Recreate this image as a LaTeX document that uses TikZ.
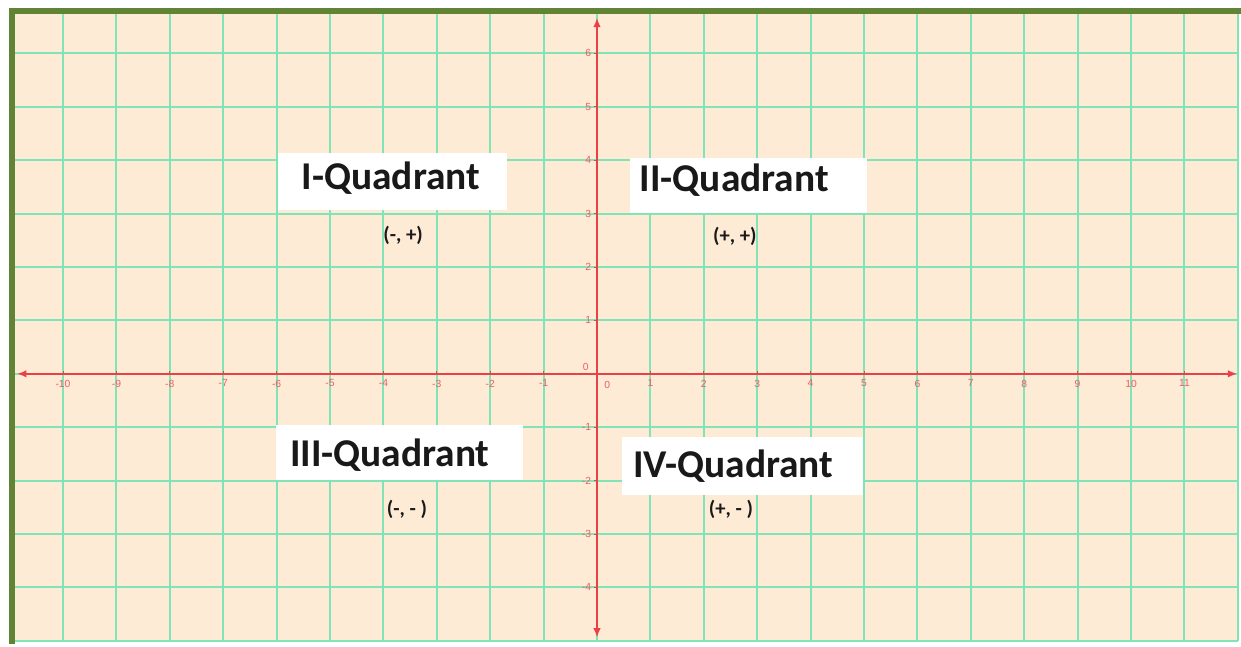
\documentclass[tikz,border=0pt]{standalone}
\usepackage{fontspec}
\setmainfont{Carlito}
\newfontfamily\tickfont{Liberation Sans}
\usetikzlibrary{arrows.meta}
\definecolor{paper}{RGB}{253,235,213}
\definecolor{gridgreen}{RGB}{128,228,182}
\definecolor{axisred}{RGB}{236,64,72}
\definecolor{framegreen}{RGB}{96,132,52}

\begin{document}
\begin{tikzpicture}[>={Latex[length=5pt,width=4pt]}, ticklbl/.style={font=\tickfont\fontsize{5.5}{6}\selectfont, text=axisred!85, inner sep=1pt}, qbox/.style={fill=white, inner sep=0pt}, qname/.style={font=\fontsize{21}{24}\selectfont\bfseries, text=black!90, inner sep=0pt, anchor=base}, qsign/.style={font=\fontsize{11}{13}\selectfont\bfseries, text=black!90, inner sep=0pt}]
	\useasboundingbox[fill=white] (-11.18,-5.11) rectangle (12.06,7.0);
	\fill[paper] (-10.96,-5) rectangle (12,6.79);
	\draw[gridgreen, line width=1.1pt] (-10.96,-5) grid (12,6.79);
	\draw[framegreen, line width=3pt, line cap=rect] (-10.96,-5) -- (-10.96,6.79) -- (12,6.79);
	% axes
	\coordinate (xmin) at (-10.86,0);
	\coordinate (xmax) at (11.99,0);
	\coordinate (ymin) at (0,-4.94);
	\coordinate (ymax) at (0,6.67);
	\draw[<->, axisred, line width=1pt] (xmin) -- (xmax);
	\draw[<->, axisred, line width=1pt] (ymin) -- (ymax);
	\foreach \x in {-10,...,-1,1,2,...,11} {
		\draw[axisred, line width=0.4pt] (\x,0) -- (\x,0.06);
		\node[ticklbl, below] (xt\x) at (\x,-0.07) {\x};
	}
	\foreach \y in {-4,...,-1,1,2,...,6} {
		\draw[axisred, line width=0.4pt] (0,\y) -- (-0.06,\y);
		\node[ticklbl, left] (yt\y) at (-0.07,\y) {\y};
	}
	\node[ticklbl] (xt0) at (0.19,-0.2) {0};
	\node[ticklbl] (yt0) at (-0.21,0.13) {0};
	% quadrant labels
	\node[qbox, minimum width=4.29cm, minimum height=1.07cm] (boxI) at (-3.83,3.6) {};
	\node[qname] (nameI) at (-3.86,3.46) {I-Quadrant};
	\node[qsign] (signI) at (-3.63,2.6) {(-, +)};
	\node[qbox, minimum width=4.44cm, minimum height=1.03cm] (boxII) at (2.84,3.53) {};
	\node[qname] (nameII) at (2.57,3.41) {II-Quadrant};
	\node[qsign] (signII) at (2.58,2.58) {(+, +)};
	\node[qbox, minimum width=4.62cm, minimum height=1.03cm] (boxIII) at (-3.70,-1.47) {};
	\node[qname] (nameIII) at (-3.88,-1.74) {III-Quadrant};
	\node[qsign] (signIII) at (-3.56,-2.53) {(-, - )};
	\node[qbox, minimum width=4.51cm, minimum height=1.09cm] (boxIV) at (2.72,-1.72) {};
	\node[qname] (nameIV) at (2.55,-1.95) {IV-Quadrant};
	\node[qsign] (signIV) at (2.51,-2.53) {(+, - )};
\end{tikzpicture}
\end{document}
